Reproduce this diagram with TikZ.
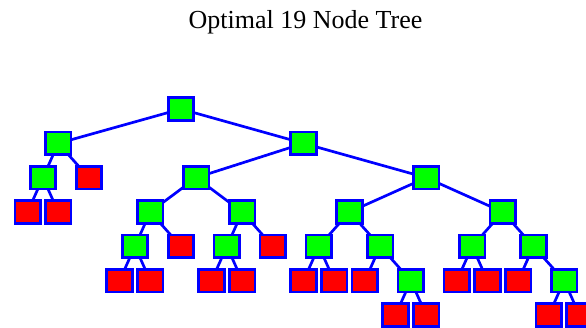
\documentclass[tikz,border=0pt]{standalone}
\usepackage{fontspec}
\setmainfont{Liberation Serif}
\begin{document}
\begin{tikzpicture}[x=15.33pt,y=-34.33pt,
  box/.style={draw=blue,line width=2.7pt,minimum width=25.5pt,minimum height=22.8pt,inner sep=0pt,outer sep=0pt},
  gbox/.style={box,fill=green},
  rbox/.style={box,fill=red},
  edge/.style={draw=blue,line width=2.7pt}]
\useasboundingbox (0pt,0pt) rectangle (586pt,-327pt);
\node[anchor=base,font=\fontsize{26}{30}\selectfont] (title) at (305.5pt,-28.8pt) {Optimal 19 Node Tree};
\begin{scope}[shift={(27.6pt,-109pt)}]
% level 0
\node[gbox] (n0) at (10,0) {};
% level 1
\node[gbox] (n1) at (2,1) {};
\node[gbox] (n2) at (18,1) {};
% level 2
\node[gbox] (n3) at (1,2) {};
\node[rbox] (n4) at (4,2) {};
\node[gbox] (n5) at (11,2) {};
\node[gbox] (n6) at (26,2) {};
% level 3
\node[rbox] (n7) at (0,3) {};
\node[rbox] (n8) at (2,3) {};
\node[gbox] (n9) at (8,3) {};
\node[gbox] (n10) at (14,3) {};
\node[gbox] (n11) at (21,3) {};
\node[gbox] (n12) at (31,3) {};
% level 4
\node[gbox] (n13) at (7,4) {};
\node[rbox] (n14) at (10,4) {};
\node[gbox] (n15) at (13,4) {};
\node[rbox] (n16) at (16,4) {};
\node[gbox] (n17) at (19,4) {};
\node[gbox] (n18) at (23,4) {};
\node[gbox] (n19) at (29,4) {};
\node[gbox] (n20) at (33,4) {};
% level 5
\node[rbox] (a1) at (6,5) {};
\node[rbox] (a2) at (8,5) {};
\node[rbox] (a3) at (12,5) {};
\node[rbox] (a4) at (14,5) {};
\node[rbox] (a5) at (18,5) {};
\node[rbox] (a6) at (20,5) {};
\node[rbox] (a7) at (22,5) {};
\node[gbox] (a8) at (25,5) {};
\node[rbox] (a9) at (28,5) {};
\node[rbox] (a10) at (30,5) {};
\node[rbox] (a11) at (32,5) {};
\node[gbox] (a12) at (35,5) {};
% level 6
\node[rbox] (b1) at (24,6) {};
\node[rbox] (b2) at (26,6) {};
\node[rbox] (b3) at (34,6) {};
\node[rbox] (b4) at (36,6) {};
\end{scope}
\path[edge] (n0) -- (n1) (n0) -- (n2)
  (n1) -- (n3) (n1) -- (n4)
  (n2) -- (n5) (n2) -- (n6)
  (n3) -- (n7) (n3) -- (n8)
  (n5) -- (n9) (n5) -- (n10)
  (n6) -- (n11) (n6) -- (n12)
  (n9) -- (n13) (n9) -- (n14)
  (n10) -- (n15) (n10) -- (n16)
  (n11) -- (n17) (n11) -- (n18)
  (n12) -- (n19) (n12) -- (n20)
  (n13) -- (a1) (n13) -- (a2)
  (n15) -- (a3) (n15) -- (a4)
  (n17) -- (a5) (n17) -- (a6)
  (n18) -- (a7) (n18) -- (a8)
  (n19) -- (a9) (n19) -- (a10)
  (n20) -- (a11) (n20) -- (a12)
  (a8) -- (b1) (a8) -- (b2)
  (a12) -- (b3) (a12) -- (b4);
\end{tikzpicture}
\end{document}
